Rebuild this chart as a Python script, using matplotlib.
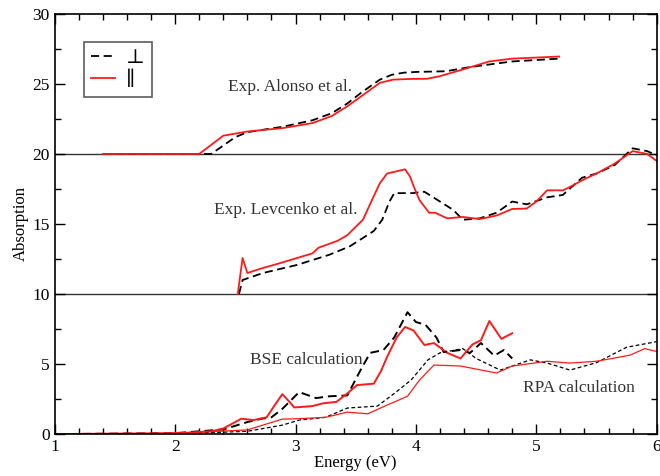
import numpy as np
import matplotlib.pyplot as plt
from matplotlib.ticker import MultipleLocator

plt.rcParams['font.family'] = ['Liberation Serif', 'DejaVu Serif']

# Exp. Alonso et al. (offset +20)
alo_perp_x = [1.4, 2.3, 2.4, 2.5, 2.6, 2.75, 2.9, 3.14, 3.3, 3.43, 3.55, 3.7, 3.8, 3.9, 4.0,
              4.25, 4.45, 4.8, 5.19]
alo_perp_y = [20.0, 20.0, 20.6, 21.2, 21.55, 21.75, 21.95, 22.4, 22.9, 23.6, 24.4, 25.3, 25.65,
              25.8, 25.85, 25.9, 26.2, 26.6, 26.8]
alo_par_x = [1.4, 2.2, 2.4, 2.6, 2.9, 3.14, 3.3, 3.43, 3.56, 3.7, 3.81, 3.95, 4.09, 4.2, 4.34,
             4.61, 4.8, 5.19]
alo_par_y = [20.0, 20.0, 21.3, 21.6, 21.85, 22.2, 22.7, 23.4, 24.2, 25.07, 25.3, 25.35, 25.36,
             25.55, 25.9, 26.6, 26.8, 26.95]

# Exp. Levcenko et al. (offset +10)
lev_perp_x = [2.53, 2.56, 2.73, 3.01, 3.28, 3.45, 3.56, 3.65, 3.72, 3.78, 3.82, 3.97, 4.07,
              4.2, 4.31, 4.39, 4.53, 4.67, 4.8, 4.92, 5.09, 5.22, 5.38, 5.5, 5.65, 5.8,
              5.92, 6.0]
lev_perp_y = [10.0, 11.0, 11.5, 12.07, 12.8, 13.4, 14.0, 14.5, 15.3, 16.6, 17.2, 17.2, 17.3,
              16.6, 16.0, 15.3, 15.4, 15.8, 16.6, 16.4, 16.9, 17.07, 18.3, 18.6, 19.2, 20.4,
              20.2, 19.9]
lev_par_x = [2.52, 2.56, 2.6, 2.73, 2.87, 3.14, 3.19, 3.35, 3.43, 3.56, 3.64, 3.7, 3.76, 3.91,
             3.95, 3.99, 4.03, 4.11, 4.16, 4.26, 4.39, 4.53, 4.67, 4.8, 4.92, 5.0, 5.09, 5.22,
             5.27, 5.4, 5.5, 5.65, 5.8, 5.92, 6.0]
lev_par_y = [10.0, 12.57, 11.5, 11.86, 12.2, 12.9, 13.3, 13.8, 14.2, 15.3, 16.8, 17.9, 18.6,
             18.9, 18.4, 17.5, 16.7, 15.8, 15.8, 15.4, 15.5, 15.35, 15.6, 16.07, 16.1, 16.6,
             17.4, 17.4, 17.6, 18.2, 18.6, 19.3, 20.2, 20.0, 19.5]

# BSE calculation
bse_perp_x = [1.0, 2.0, 2.4, 2.6, 2.72, 2.8, 2.89, 3.03, 3.17, 3.28, 3.43, 3.54, 3.62, 3.73,
              3.82, 3.93, 4.0, 4.08, 4.17, 4.23, 4.37, 4.45, 4.54, 4.65, 4.73, 4.8]
bse_perp_y = [0.0, 0.07, 0.33, 0.86, 1.1, 1.2, 1.8, 3.0, 2.57, 2.7, 2.76, 4.57, 5.8, 6.0,
              6.9, 8.7, 8.0, 7.8, 6.9, 5.86, 6.0, 5.8, 6.5, 5.6, 6.0, 5.4]
bse_par_x = [1.0, 2.04, 2.3, 2.4, 2.55, 2.65, 2.76, 2.83, 2.89, 2.95, 2.99, 3.14, 3.23, 3.34,
             3.43, 3.51, 3.65, 3.71, 3.76, 3.84, 3.91, 3.98, 4.07, 4.15, 4.26, 4.37, 4.47,
             4.54, 4.61, 4.71, 4.8]
bse_par_y = [0.0, 0.07, 0.2, 0.4, 1.1, 1.0, 1.2, 2.1, 2.85, 2.3, 1.9, 2.0, 2.2, 2.3,
             2.9, 3.5, 3.6, 4.5, 5.5, 6.9, 7.65, 7.4, 6.36, 6.5, 5.8, 5.4, 6.4,
             6.7, 8.07, 6.8, 7.2]

# RPA calculation
rpa_perp_x = [1.0, 2.0, 2.6, 2.89, 3.03, 3.25, 3.43, 3.68, 3.82, 3.96, 4.1, 4.2, 4.39,
              4.5, 4.7, 4.8, 4.95, 5.09, 5.28, 5.5, 5.75, 6.0]
rpa_perp_y = [0.0, 0.02, 0.2, 0.64, 1.0, 1.2, 1.86, 2.0, 2.9, 3.86, 5.3, 5.8, 6.1,
              5.4, 4.57, 4.86, 5.3, 5.07, 4.57, 5.1, 6.2, 6.6]
rpa_par_x = [1.0, 2.0, 2.6, 2.89, 3.03, 3.25, 3.43, 3.6, 3.76, 3.93, 4.03, 4.15, 4.37,
             4.67, 4.8, 5.09, 5.28, 5.5, 5.63, 5.78, 5.9, 6.0]
rpa_par_y = [0.0, 0.05, 0.3, 1.07, 1.1, 1.2, 1.57, 1.45, 2.07, 2.7, 3.86, 4.93, 4.86,
             4.36, 4.86, 5.2, 5.07, 5.2, 5.4, 5.64, 6.1, 5.9]

red = '#ff1a1a'
dash = (0, (4.5, 2.5))

fig = plt.figure(figsize=(6.6, 4.76), dpi=100)
ax = fig.add_axes([0.083, 0.088, 0.912, 0.883])

ax.axhline(20, color='#333333', lw=1.0, zorder=1)
ax.axhline(10, color='#333333', lw=1.0, zorder=1)

ax.plot(alo_perp_x, alo_perp_y, color='black', ls=dash, lw=1.3, label='⊥')
ax.plot(alo_par_x, alo_par_y, color=red, lw=1.3, label='∥')
ax.plot(lev_perp_x, lev_perp_y, color='black', ls=dash, lw=1.3)
ax.plot(lev_par_x, lev_par_y, color=red, lw=1.3)
ax.plot(bse_perp_x, bse_perp_y, color='black', ls=dash, lw=1.4)
ax.plot(bse_par_x, bse_par_y, color=red, lw=1.4)
ax.plot(rpa_perp_x, rpa_perp_y, color='black', ls=(0, (3, 2)), lw=0.9)
ax.plot(rpa_par_x, rpa_par_y, color=red, lw=0.9)

tc = '#333333'
fs = 12.5
ax.text(2.95, 24.8, 'Exp. Alonso et al.', ha='center', va='center', fontsize=fs, color=tc)
ax.text(2.32, 16.0, 'Exp. Levcenko et al.', ha='left', va='center', fontsize=fs, color=tc)
ax.text(2.62, 5.3, 'BSE calculation', ha='left', va='center', fontsize=fs, color=tc)
ax.text(4.89, 3.3, 'RPA calculation', ha='left', va='center', fontsize=fs, color=tc)

ax.set_xlim(1, 6)
ax.set_ylim(0, 30)
ax.xaxis.set_major_locator(MultipleLocator(1))
ax.xaxis.set_minor_locator(MultipleLocator(0.2))
ax.yaxis.set_major_locator(MultipleLocator(5))
ax.yaxis.set_minor_locator(MultipleLocator(2.5))
ax.tick_params(which='both', direction='in', top=True, right=True, labelsize=12.5, width=1)
ax.tick_params(which='major', length=7)
ax.tick_params(which='minor', length=4)
for s in ax.spines.values():
    s.set_linewidth(1.2)
ax.set_xlabel('Energy (eV)', fontsize=12, labelpad=0)
ax.set_ylabel('Absorption', fontsize=12, labelpad=3)

leg = ax.legend(loc='upper left', bbox_to_anchor=(0.048, 0.933), fontsize=14.5, frameon=True,
                fancybox=False, edgecolor='#333333', handlelength=1.2, borderpad=0.35,
                labelspacing=0.15, handletextpad=0.55, borderaxespad=0)
leg.get_frame().set_linewidth(1.2)

fig.savefig('out.png', dpi=100)
